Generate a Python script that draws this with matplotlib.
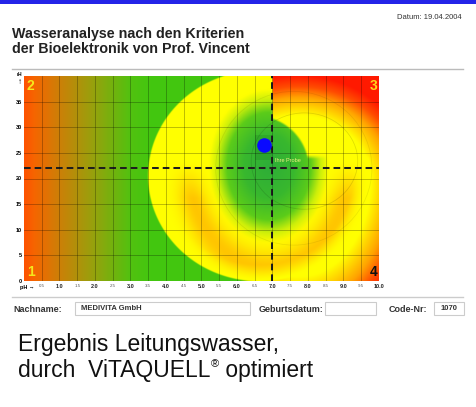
import numpy as np
import matplotlib
matplotlib.use("Agg")
import matplotlib.pyplot as plt
from matplotlib.patches import Rectangle, Ellipse
from matplotlib.lines import Line2D

# ---- data ----
ph_ticks = [0.5, 1.0, 1.5, 2.0, 2.5, 3.0, 3.5, 4.0, 4.5, 5.0,
            5.5, 6.0, 6.5, 7.0, 7.5, 8.0, 8.5, 9.0, 9.5, 10.0]
rh_ticks = [0, 5, 10, 15, 20, 25, 30, 35]
ph_range = (0, 10)
rh_range = (0, 40)
ph_neutral = 7.0
rh_neutral = 22.0
sample_ph = 6.77
sample_rh = 26.5
sample_label = "Ihre Probe"
quadrant_labels = ["1", "2", "3", "4"]

title_lines = ["Wasseranalyse nach den Kriterien",
               "der Bioelektronik von Prof. Vincent"]
datum = "Datum: 19.04.2004"
nachname = "MEDIVITA GmbH"
code_nr = "1070"

W, H = 477, 407
# pixel size of one unit in the original picture
PX_PH = 35.5
PX_RH = 5.12


def fx(x):
    return x / W


def fy(y):
    return 1 - y / H


def ramp(v, stops, cols):
    cols = np.asarray(cols, float)
    return np.stack([np.interp(v, stops, cols[:, k]) for k in range(3)], axis=-1)


def mix(a, b, w):
    w = np.clip(w, 0, 1)[..., None]
    return a * (1 - w) + np.asarray(b, float) * w


def background():
    ph = np.linspace(ph_range[0], ph_range[1], 710)
    rh = np.linspace(rh_range[0], rh_range[1], 410)
    P, R = np.meshgrid(ph, rh)
    X, Y = P * PX_PH, R * PX_RH

    green = (0.26, 0.78, 0.06)
    yellow = (1.0, 1.0, 0.0)
    orange = (1.0, 0.64, 0.0)
    red = (1.0, 0.1, 0.0)

    left = ramp(P, [0, 0.3, 1.0, 2.0, 3.0, 3.6],
                [(1, 0.32, 0), (0.96, 0.4, 0), (0.8, 0.5, 0.03),
                 (0.58, 0.64, 0.05), (0.32, 0.76, 0.06), green])
    k = np.where(Y > 100, 1.1, 0.75)
    r = np.hypot(X - 275, k * (Y - 100))
    right = ramp(r, [0, 72, 92, 104, 116],
                 [yellow, yellow, orange, (1, 0.3, 0), red])
    img = mix(left, right, (X - 215) / 30)

    # big disc
    s = np.hypot((X - 235.5) / 112, (Y - 105) / 106)
    u = np.hypot(X - 245, (Y - 115) / 1.28)
    inner = ramp(u, [0, 25, 42, 52, 60],
                 [(0.18, 0.68, 0.22), (0.22, 0.72, 0.18), (0.36, 0.8, 0.1),
                  (0.8, 0.94, 0.04), yellow])
    band = np.exp(-((u - 80) / 14) ** 2) * np.clip((118 - Y) / 35, 0, 1)
    inner = mix(inner, (1.0, 0.68, 0.0), 0.7 * band)
    inner = mix(inner, yellow, (s - 0.84) / 0.14)
    img = mix(img, inner, (1 - s) * 110)

    # upper right corner
    g = np.hypot(X - 232, Y - 112)
    q = (np.clip((X - 248.5) * 2, 0, 1) * np.clip((g - 52) / 2, 0, 1)
         * np.clip((Y - 122) / 4, 0, 1))
    img = mix(img, right, q)
    return img


fig = plt.figure(figsize=(W / 100, H / 100), dpi=100)

# top blue bar
fig.add_artist(Rectangle((0, fy(4)), 1, 4 / H, transform=fig.transFigure,
                         color="#2424e8", lw=0))

for line, base in zip(title_lines, [38, 53]):
    fig.text(fx(12), fy(base), line, fontsize=10.3, fontweight="bold",
             family="Liberation Sans", color="#222222", va="baseline")
fig.text(fx(462), fy(19), datum, fontsize=5.5, family="Liberation Sans",
         color="#333333", ha="right", va="baseline")
fig.add_artist(Line2D([fx(12), fx(463)], [fy(69), fy(69)],
                      transform=fig.transFigure, color="#bbbbbb", lw=1))
fig.add_artist(Line2D([fx(12), fx(463)], [fy(297), fy(297)],
                      transform=fig.transFigure, color="#cccccc", lw=1))

# chart
ax = fig.add_axes([fx(24), fy(281), 355 / W, 205 / H])
ax.imshow(background(), extent=(*ph_range, *rh_range), origin="lower",
          aspect="auto", interpolation="bilinear", zorder=0)
ax.set_xlim(*ph_range)
ax.set_ylim(*rh_range)
for sp in ax.spines.values():
    sp.set_visible(False)

ax.set_xticks(ph_ticks)
ax.set_xticklabels(["%.1f" % v for v in ph_ticks])
ax.set_yticks(rh_ticks)
ax.set_yticklabels([str(v) for v in rh_ticks])
ax.tick_params(length=0, pad=2)
for v, lab in zip(ph_ticks, ax.get_xticklabels()):
    lab.set_family("Liberation Sans")
    if v == int(v):
        lab.set_fontsize(4)
        lab.set_fontweight("bold")
        lab.set_color("#222222")
    else:
        lab.set_fontsize(3.2)
        lab.set_color("#555555")
for lab in ax.get_yticklabels():
    lab.set_family("Liberation Sans")
    lab.set_fontsize(4)
    lab.set_fontweight("bold")
ax.tick_params(axis="y", pad=1.5)
ax.grid(True, color="black", alpha=0.3, lw=0.6)
ax.set_axisbelow(False)

fig.text(fx(20), fy(288), "pH \u2192", fontsize=4, fontweight="bold",
         family=["Liberation Sans", "DejaVu Sans"], va="center")
fig.text(fx(19), fy(75), "rH", fontsize=3.5, fontweight="bold",
         family="Liberation Sans", ha="center", va="center")
fig.text(fx(20), fy(82), "\u2191", fontsize=6,
         family=["Liberation Sans", "DejaVu Sans"], ha="center", va="center")

# faint rings
ax.add_patch(Ellipse((7.9, 23.4), 3.0, 18.8, fill=False,
                     ec=(0, 0, 0, 0.12), lw=0.6))
ax.add_patch(Ellipse((7.6, 22.0), 4.4, 30.0, fill=False,
                     ec=(0, 0, 0, 0.07), lw=0.6))

ax.axvline(ph_neutral, color="#1e1e1e", lw=1.45, ls=(0, (3.3, 2.0)))
ax.axhline(rh_neutral, color="#1e1e1e", lw=1.45, ls=(0, (3.3, 2.0)))

# sample
cell_x = np.floor(sample_ph * 2) / 2
ax.add_patch(Rectangle((cell_x, sample_rh - 2.8), 0.5, 4.8,
                       fc=(0, 0.3, 0, 0.12), lw=0))
ax.plot([sample_ph], [sample_rh], "o", ms=10.5, color="#0a0aff", mec="none")
ax.text(ph_neutral + 0.08, sample_rh - 3.2, sample_label, fontsize=4,
        color="#f0f080", family="Liberation Sans", va="baseline")

qkw = dict(fontsize=10, fontweight="bold", family="Liberation Sans",
           transform=ax.transAxes)
ax.text(0.008, 0.01, quadrant_labels[0], color="#f4e81c", ha="left", va="bottom", **qkw)
ax.text(0.008, 0.985, quadrant_labels[1], color="#f4e81c", ha="left", va="top", **qkw)
ax.text(0.995, 0.985, quadrant_labels[2], color="#ffd21c", ha="right", va="top", **qkw)
ax.text(0.995, 0.01, quadrant_labels[3], color="#111111", ha="right", va="bottom", **qkw)

# form row
lkw = dict(fontsize=6.5, fontweight="bold", family="Liberation Sans",
           color="#333333", va="center")
fig.text(fx(13), fy(309), "Nachname:", **lkw)
fig.text(fx(259), fy(309), "Geburtsdatum:", **lkw)
fig.text(fx(389), fy(309), "Code-Nr:", **lkw)
for x0, x1 in [(75, 250), (325, 376), (434, 464)]:
    fig.add_artist(Rectangle((fx(x0), fy(315)), (x1 - x0) / W, 13 / H,
                             transform=fig.transFigure, fc="white",
                             ec="#cccccc", lw=0.8))
fig.text(fx(81), fy(309), nachname, fontsize=5.5, fontweight="bold",
         family="Liberation Sans", color="#333333", va="center")
fig.text(fx(458), fy(309), code_nr, fontsize=5.5, fontweight="bold",
         family="Liberation Sans", color="#333333", va="center", ha="right")

# caption
ckw = dict(fontsize=16.5, family="Liberation Sans", color="#111111",
           va="baseline")
fig.text(fx(18), fy(351), "Ergebnis Leitungswasser,", **ckw)
t1 = fig.text(fx(18), fy(377), "durch  ViTAQUELL", **ckw)
t2 = ax.annotate("\u00ae", xy=(1, 0), xycoords=t1, xytext=(0.5, 9),
                 textcoords="offset points", fontsize=8,
                 family="Liberation Sans", color="#111111",
                 va="bottom", annotation_clip=False)
ax.annotate(" optimiert", xy=(1, 0), xycoords=t2, xytext=(0, -9),
            textcoords="offset points", fontsize=16.5,
            family="Liberation Sans", color="#111111", va="bottom",
            annotation_clip=False)

fig.savefig("out.png", dpi=100)
